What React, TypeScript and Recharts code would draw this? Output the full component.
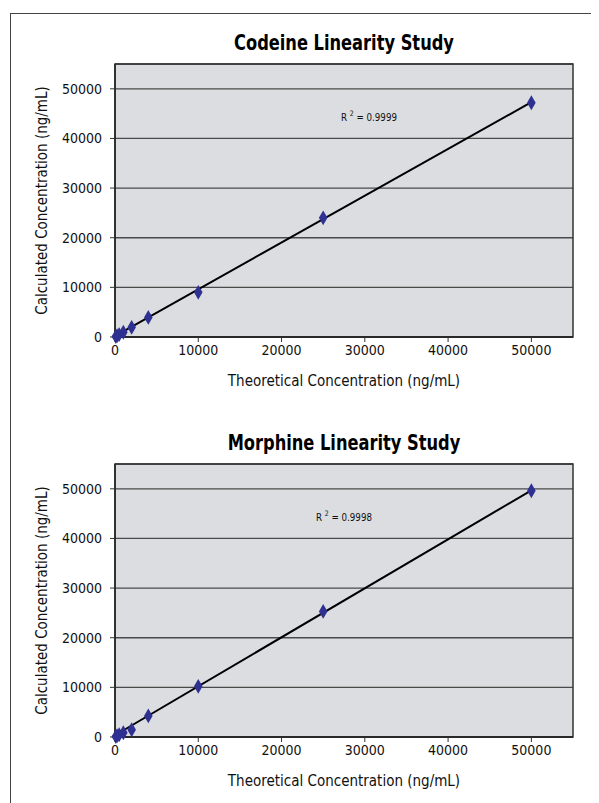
import React from 'react';
import {
  ScatterChart,
  Scatter,
  XAxis,
  YAxis,
  ZAxis,
  CartesianGrid,
  ReferenceLine,
  ReferenceArea,
} from 'recharts';

const theoretical = [100, 250, 500, 1000, 2000, 4000, 10000, 25000, 50000];
const codeineCalc = [100, 250, 480, 950, 1950, 3950, 9000, 24000, 47200];
const morphineCalc = [100, 250, 450, 850, 1450, 4250, 10200, 25300, 49600];
const codeineTrend = [
  { x: 0, y: 200 },
  { x: 50000, y: 47300 },
];
const morphineTrend = [
  { x: 0, y: 350 },
  { x: 50000, y: 49700 },
];
const xTicks = [0, 10000, 20000, 30000, 40000, 50000];
const yTicks = [0, 10000, 20000, 30000, 40000, 50000];
const axisMax = 55000;

const FONT = "'Liberation Sans Narrow', 'Arial Narrow', 'DejaVu Sans Condensed', sans-serif";

type ChartProps = {
  title: string;
  calc: number[];
  trend: { x: number; y: number }[];
  r2: string;
  r2Left: number;
  top: number;
  height: number;
};

function LinearityChart({ title, calc, trend, r2, r2Left, top, height }: ChartProps) {
  const data = theoretical.map((x, i) => ({ x, y: calc[i] }));
  const plotTop = 56;
  const plotBottom = 329;
  const xAxisHeight = 60;
  return (
    <div style={{ position: 'absolute', left: 0, top, width: 591, height }}>
      <div
        style={{
          position: 'absolute',
          left: 136,
          top: 23,
          width: 400,
          textAlign: 'center',
          fontFamily: FONT,
          fontWeight: 'bold',
          fontSize: 21,
          lineHeight: '24px',
          color: '#000',
          transform: 'scaleX(0.86)',
        }}
      >
        {title}
      </div>
      <div
        style={{
          position: 'absolute',
          left: r2Left,
          top: 102,
          fontFamily: FONT,
          fontSize: 10.5,
          lineHeight: '14px',
          color: '#111',
          whiteSpace: 'nowrap',
          zIndex: 2,
          transform: 'scaleX(0.92)',
          transformOrigin: 'left center',
        }}
      >
        R <sup style={{ fontSize: 7.5, verticalAlign: 'top', lineHeight: '7px' }}>2</sup> = {r2}
      </div>
      <ScatterChart
        width={591}
        height={height}
        margin={{ top: plotTop, right: 26, bottom: height - plotBottom - xAxisHeight, left: 0 }}
      >
        <CartesianGrid vertical={false} stroke="#4a4a4a" strokeWidth={1.3} fill="#dcdde0" fillOpacity={1} />
        <XAxis
          type="number"
          dataKey="x"
          domain={[0, axisMax]}
          ticks={xTicks}
          interval={0}
          height={xAxisHeight}
          tickSize={5}
          tickMargin={3}
          axisLine={{ stroke: '#222', strokeWidth: 1.5 }}
          tickLine={{ stroke: '#333' }}
          tick={{ fontSize: 14, fill: '#111', fontFamily: FONT }}
          label={{
            content: (props: any) => {
              const vb = props.viewBox || {};
              const cx = vb.x + vb.width / 2;
              const cy = vb.y + 44;
              return (
                <text
                  x={cx}
                  y={cy}
                  textAnchor="middle"
                  dominantBaseline="central"
                  fontFamily={FONT}
                  fontSize={15}
                  fill="#111"
                >
                  Theoretical Concentration (ng/mL)
                </text>
              );
            },
          }}
        />
        <YAxis
          type="number"
          dataKey="y"
          domain={[0, axisMax]}
          ticks={yTicks}
          interval={0}
          width={107}
          tickSize={5}
          tickMargin={8}
          axisLine={{ stroke: '#222', strokeWidth: 1.5 }}
          tickLine={{ stroke: '#333' }}
          tick={{ fontSize: 14, fill: '#111', fontFamily: FONT }}
          label={{
            content: (props: any) => {
              const vb = props.viewBox || {};
              const cx = vb.x + 34;
              const cy = vb.y + vb.height / 2;
              return (
                <text
                  x={cx}
                  y={cy}
                  transform={`rotate(-90 ${cx} ${cy})`}
                  textAnchor="middle"
                  dominantBaseline="central"
                  fontFamily={FONT}
                  fontSize={15}
                  fill="#111"
                >
                  Calculated Concentration (ng/mL)
                </text>
              );
            },
          }}
        />
        <ZAxis range={[18, 18]} />
        <ReferenceArea
          x1={0}
          x2={axisMax}
          y1={0}
          y2={axisMax}
          fill="none"
          stroke="#333"
          strokeWidth={1.5}
          ifOverflow="visible"
        />
        <ReferenceLine segment={trend} stroke="#000" strokeWidth={2} ifOverflow="visible" />
        <Scatter data={data} fill="#2e3192" shape="diamond" isAnimationActive={false} />
      </ScatterChart>
    </div>
  );
}

export default function App() {
  return (
    <div style={{ position: 'relative', width: 591, height: 795, overflow: 'hidden', background: '#fff' }}>
      <div
        style={{
          position: 'absolute',
          left: 2,
          top: 5,
          width: 700,
          height: 900,
          borderLeft: '1.5px solid #444',
          borderTop: '1.5px solid #444',
        }}
      />
      <LinearityChart
        title="Codeine Linearity Study"
        calc={codeineCalc}
        trend={codeineTrend}
        r2="0.9999"
        r2Left={333}
        top={0}
        height={400}
      />
      <LinearityChart
        title="Morphine Linearity Study"
        calc={morphineCalc}
        trend={morphineTrend}
        r2="0.9998"
        r2Left={308}
        top={400}
        height={395}
      />
    </div>
  );
}
